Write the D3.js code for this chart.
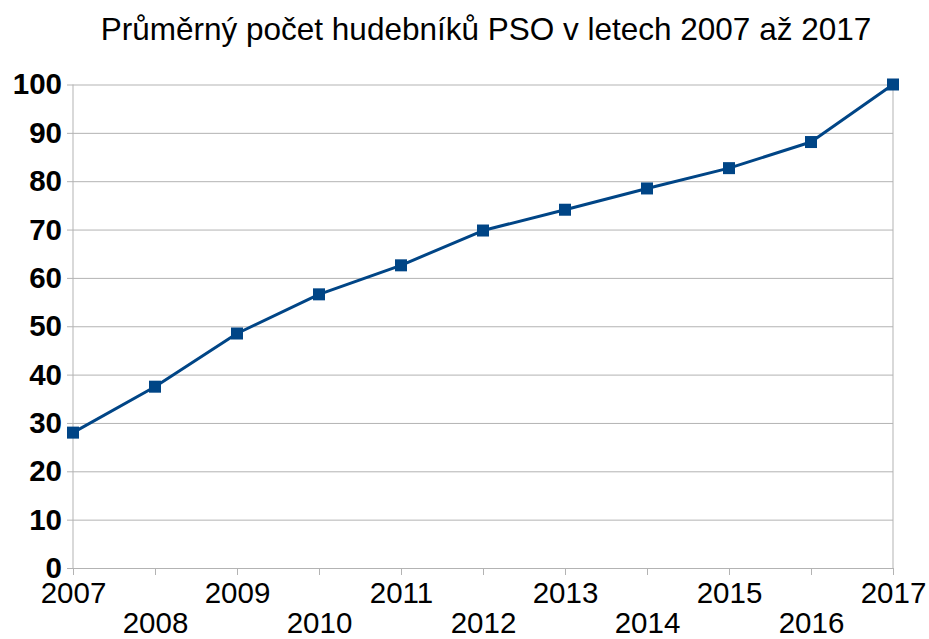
<!DOCTYPE html>
<html lang="cs">
<head>
    <meta charset="UTF-8">
    <title>Průměrný počet hudebníků PSO</title>
    <script src="https://d3js.org/d3.v7.min.js"></script>
    <style>
        body { margin: 0; background: #fff; }
        text { font-family: "Liberation Sans", Arial, sans-serif; }
        .grid line { stroke: #b3b3b3; stroke-width: 1; }
        .grid .domain { stroke: none; }
    </style>
</head>
<body>
<script>
    const title = "Průměrný počet hudebníků PSO v letech 2007 až 2017";
    const years = ["2007", "2008", "2009", "2010", "2011", "2012", "2013", "2014", "2015", "2016", "2017"];
    const musicians = [28, 37.5, 48.5, 56.6, 62.6, 69.8, 74.1, 78.5, 82.7, 88.1, 100];
    const yTicks = [0, 10, 20, 30, 40, 50, 60, 70, 80, 90, 100];

    const width = 929, height = 639;
    const margin = {top: 84.5, right: 36, bottom: 71, left: 73};
    const w = width - margin.left - margin.right;
    const h = height - margin.top - margin.bottom;

    const svg = d3.select("body").append("svg")
        .attr("width", width)
        .attr("height", height);

    svg.append("text")
        .attr("x", 486)
        .attr("y", 40)
        .attr("text-anchor", "middle")
        .attr("font-size", 31.5)
        .attr("fill", "#000")
        .text(title);

    const g = svg.append("g")
        .attr("transform", `translate(${margin.left},${margin.top})`);

    const x = d3.scalePoint().domain(years).range([0, w]);
    const y = d3.scaleLinear().domain([0, 100]).range([h, 0]);

    // horizontal gridlines
    g.append("g")
        .attr("class", "grid")
        .call(d3.axisLeft(y).tickValues(yTicks).tickSize(-w).tickFormat(""));

    // left and right frame lines
    g.append("line").attr("x1", 0).attr("x2", 0).attr("y1", 0).attr("y2", h)
        .attr("stroke", "#b3b3b3");
    g.append("line").attr("x1", w).attr("x2", w).attr("y1", 0).attr("y2", h)
        .attr("stroke", "#b3b3b3");

    // y axis
    const yAxis = g.append("g")
        .call(d3.axisLeft(y).tickValues(yTicks).tickSize(6).tickPadding(5));
    yAxis.select(".domain").remove();
    yAxis.selectAll(".tick line").attr("stroke", "#b3b3b3");
    yAxis.selectAll(".tick text")
        .attr("font-size", 29.5)
        .attr("font-weight", "bold")
        .attr("fill", "#000")
        .attr("font-family", "Liberation Sans, Arial, sans-serif");

    // x axis, labels staggered on two rows
    const xAxis = g.append("g")
        .attr("transform", `translate(0,${h})`)
        .call(d3.axisBottom(x).tickSize(7).tickPadding(0));
    xAxis.select(".domain").attr("stroke", "#b3b3b3");
    xAxis.selectAll(".tick line").attr("stroke", "#b3b3b3");
    xAxis.selectAll(".tick text")
        .attr("font-size", 29.5)
        .attr("fill", "#000")
        .attr("font-family", "Liberation Sans, Arial, sans-serif")
        .attr("dy", null)
        .attr("y", (d, i) => i % 2 === 0 ? 35 : 65);

    const data = years.map((yr, i) => ({year: yr, value: musicians[i]}));

    g.append("path")
        .datum(data)
        .attr("fill", "none")
        .attr("stroke", "#004586")
        .attr("stroke-width", 3)
        .attr("stroke-linejoin", "round")
        .attr("d", d3.line().x(d => x(d.year)).y(d => y(d.value)));

    const s = 12;
    g.selectAll("rect.marker")
        .data(data)
        .enter()
        .append("rect")
        .attr("class", "marker")
        .attr("x", d => x(d.year) - s / 2)
        .attr("y", d => y(d.value) - s / 2)
        .attr("width", s)
        .attr("height", s)
        .attr("fill", "#004586");
</script>
</body>
</html>
